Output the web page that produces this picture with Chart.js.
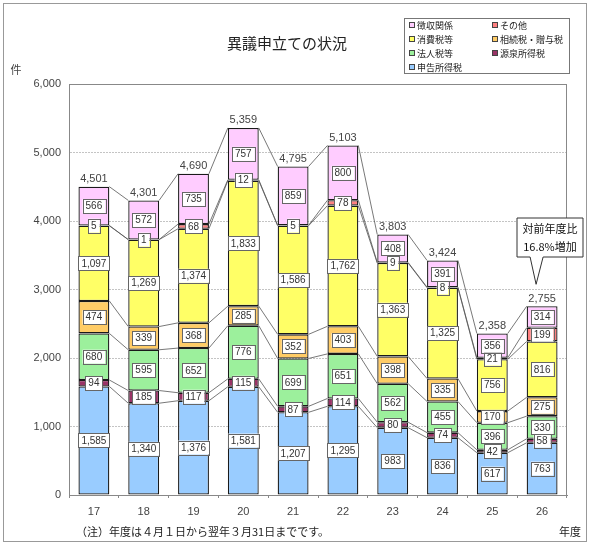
<!DOCTYPE html>
<html>
<head>
<meta charset="utf-8">
<script src="https://cdn.jsdelivr.net/npm/chart.js@4.4.1/dist/chart.umd.min.js"></script>
<style>
  html, body { margin: 0; padding: 0; background: #fff; }
  #wrap { width: 600px; height: 546px; position: relative; }
</style>
</head>
<body>
<div id="wrap"><canvas id="chart" width="600" height="546"></canvas></div>
<script>
// 年度
const years = ['17', '18', '19', '20', '21', '22', '23', '24', '25', '26'];

// 税目別件数（下から順に積み上げ）
const shinkoku = [1585, 1340, 1376, 1581, 1207, 1295, 983, 836, 617, 763];   // 申告所得税
const gensen   = [94, 185, 117, 115, 87, 114, 80, 74, 42, 58];               // 源泉所得税
const hojin    = [680, 595, 652, 776, 699, 651, 562, 455, 396, 330];         // 法人税等
const sozoku   = [474, 339, 368, 285, 352, 403, 398, 335, 170, 275];         // 相続税・贈与税
const shohi    = [1097, 1269, 1374, 1833, 1586, 1762, 1363, 1325, 756, 816]; // 消費税等
const sonota   = [5, 1, 68, 12, 5, 78, 9, 8, 21, 199];                       // その他
const choshu   = [566, 572, 735, 757, 859, 800, 408, 391, 356, 314];         // 徴収関係

const yTicks = [0, 1000, 2000, 3000, 4000, 5000, 6000];

const series = [
  { label: '申告所得税', data: shinkoku, color: '#99CCFF' },
  { label: '源泉所得税', data: gensen, color: '#993366' },
  { label: '法人税等', data: hojin, color: '#9CF09C' },
  { label: '相続税・贈与税', data: sozoku, color: '#FFCC66' },
  { label: '消費税等', data: shohi, color: '#FFFF66' },
  { label: 'その他', data: sonota, color: '#FF8080' },
  { label: '徴収関係', data: choshu, color: '#FFCCFF' }
];

const totals = years.map((y, i) => series.reduce((s, d) => s + d.data[i], 0));

const JP = '"Noto Sans CJK JP", sans-serif';
const NUM = '"Liberation Sans", Arial, sans-serif';
const fmt = v => v.toLocaleString('en-US');

// フレーム・タイトル・凡例・注記
const decorPlugin = {
  id: 'decor',
  beforeDraw(chart) {
    const ctx = chart.ctx;
    ctx.save();
    ctx.fillStyle = '#fff';
    ctx.fillRect(0, 0, chart.width, chart.height);
    ctx.strokeStyle = '#999';
    ctx.lineWidth = 1;
    ctx.strokeRect(3.5, 3.5, 583, 538);
    ctx.restore();
  },
  afterDraw(chart) {
    const ctx = chart.ctx;
    const a = chart.chartArea;
    ctx.save();
    // plot border
    ctx.strokeStyle = '#888';
    ctx.lineWidth = 1;
    ctx.strokeRect(a.left + 0.5, a.top + 0.5, a.right - a.left - 1, a.bottom - a.top);

    // title
    ctx.fillStyle = '#222';
    ctx.font = '15px ' + JP;
    ctx.textAlign = 'center';
    ctx.textBaseline = 'middle';
    ctx.fillText('異議申立ての状況', 287, 43);

    // unit
    ctx.font = '11px ' + JP;
    ctx.fillStyle = '#444';
    ctx.fillText('件', 16, 70);

    // legend
    ctx.strokeStyle = '#777';
    ctx.strokeRect(404.5, 18.5, 165, 55);
    const order = series.slice().reverse();
    ctx.font = '9px ' + JP;
    ctx.textAlign = 'left';
    order.forEach((s, k) => {
      const col = k % 2, row = Math.floor(k / 2);
      const x = col === 0 ? 409 : 492;
      const y = 25 + row * 14;
      ctx.fillStyle = s.color;
      ctx.fillRect(x, y - 2.5, 5, 5);
      ctx.strokeStyle = '#444';
      ctx.strokeRect(x + 0.5, y - 2.5, 5, 5);
      ctx.fillStyle = '#222';
      ctx.fillText(s.label, x + 8, y + 1);
    });

    // note
    ctx.font = '11px ' + JP;
    ctx.fillStyle = '#222';
    ctx.fillText('（注）年度は４月１日から翌年３月31日までです。', 76, 532);
    ctx.textAlign = 'right';
    ctx.fillText('年度', 581, 532);

    // callout for last year
    const meta = chart.getDatasetMeta(series.length - 1);
    const last = meta.data[meta.data.length - 1];
    const tipX = last.x - 6, tipY = last.y - 22;
    const bx = 517, by = 218, bw = 66, bh = 39;
    ctx.beginPath();
    ctx.moveTo(bx, by);
    ctx.lineTo(bx + bw, by);
    ctx.lineTo(bx + bw, by + bh);
    ctx.lineTo(tipX + 7, by + bh);
    ctx.lineTo(tipX, tipY);
    ctx.lineTo(tipX - 6, by + bh);
    ctx.lineTo(bx, by + bh);
    ctx.closePath();
    ctx.fillStyle = '#fff';
    ctx.fill();
    ctx.strokeStyle = '#333';
    ctx.stroke();
    ctx.fillStyle = '#111';
    ctx.textAlign = 'center';
    ctx.font = '11px ' + JP;
    ctx.fillText('対前年度比', bx + bw / 2, by + 11);
    ctx.fillText('16.8%増加', bx + bw / 2, by + 29);
    ctx.restore();
  }
};

// 系列線
const seriesLinePlugin = {
  id: 'seriesLines',
  afterDatasetsDraw(chart) {
    const ctx = chart.ctx;
    ctx.save();
    ctx.strokeStyle = '#555';
    ctx.lineWidth = 0.8;
    series.forEach((s, d) => {
      const bars = chart.getDatasetMeta(d).data;
      for (let i = 0; i < bars.length - 1; i++) {
        const b1 = bars[i], b2 = bars[i + 1];
        ctx.beginPath();
        ctx.moveTo(b1.x + b1.width / 2, b1.y);
        ctx.lineTo(b2.x - b2.width / 2, b2.y);
        ctx.stroke();
      }
    });
    ctx.restore();
  }
};

// 値ラベルと合計
const labelPlugin = {
  id: 'valueLabels',
  afterDatasetsDraw(chart) {
    const ctx = chart.ctx;
    ctx.save();
    ctx.font = '10px ' + NUM;
    ctx.textAlign = 'center';
    ctx.textBaseline = 'middle';
    series.forEach((s, d) => {
      const bars = chart.getDatasetMeta(d).data;
      bars.forEach((b, i) => {
        const txt = fmt(s.data[i]);
        const cy = (b.y + b.base) / 2;
        const w = ctx.measureText(txt).width + 6;
        const h = 14;
        ctx.fillStyle = '#fff';
        ctx.fillRect(b.x - w / 2, cy - h / 2, w, h);
        ctx.strokeStyle = '#666';
        ctx.lineWidth = 1;
        ctx.strokeRect(Math.round(b.x - w / 2) + 0.5, Math.round(cy - h / 2) + 0.5, Math.round(w), h);
        ctx.fillStyle = '#333';
        ctx.fillText(txt, b.x, cy + 0.5);
      });
    });
    const top = chart.getDatasetMeta(series.length - 1).data;
    ctx.font = '11px ' + NUM;
    ctx.fillStyle = '#444';
    ctx.textBaseline = 'bottom';
    top.forEach((b, i) => ctx.fillText(fmt(totals[i]), b.x, b.y - 2));
    ctx.restore();
  }
};

new Chart(document.getElementById('chart'), {
  type: 'bar',
  data: {
    labels: years,
    datasets: series.map(s => ({
      label: s.label,
      data: s.data,
      backgroundColor: s.color,
      borderColor: '#1a1a1a',
      borderWidth: 1.3,
      borderSkipped: false,
      barPercentage: 0.62,
      categoryPercentage: 1
    }))
  },
  options: {
    responsive: false,
    animation: false,
    layout: { padding: { left: 0, top: 84, right: 33, bottom: 0 } },
    plugins: {
      legend: { display: false },
      tooltip: { enabled: false },
      title: { display: false }
    },
    scales: {
      x: {
        stacked: true,
        grid: { offset: true, drawOnChartArea: false, tickLength: 3, color: '#888' },
        border: { color: '#888' },
        ticks: { color: '#444', font: { size: 11, family: NUM }, padding: 7 },
        afterFit(scale) { scale.height = 51; }
      },
      y: {
        stacked: true,
        min: 0,
        max: 6000,
        afterBuildTicks(scale) { scale.ticks = yTicks.map(v => ({ value: v })); },
        grid: { color: '#c4c4c4', drawTicks: false },
        border: { color: '#888', dash: [2, 1] },
        ticks: { color: '#444', font: { size: 11, family: NUM }, padding: 8, callback: v => fmt(v) },
        afterFit(scale) { scale.width = 69; }
      }
    }
  },
  plugins: [decorPlugin, seriesLinePlugin, labelPlugin]
});
</script>
</body>
</html>
